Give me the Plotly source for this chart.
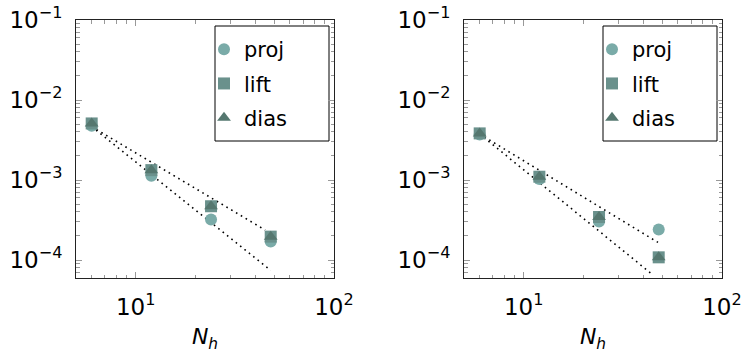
import plotly.graph_objects as go

# ---- data ----
N = [6, 12, 24, 48]

left_proj = [4.78e-3, 1.13e-3, 3.2e-4, 1.7e-4]
left_lift = [5.1e-3, 1.33e-3, 4.7e-4, 1.96e-4]
left_dias = [5.1e-3, 1.33e-3, 4.7e-4, 1.96e-4]

right_proj = [3.7e-3, 1.03e-3, 3.04e-4, 2.4e-4]
right_lift = [3.83e-3, 1.1e-3, 3.45e-4, 1.08e-4]
right_dias = [3.83e-3, 1.1e-3, 3.45e-4, 1.08e-4]

# reference (order) lines: endpoints
left_ref_hi_x = [6, 45]
left_ref_hi_y = [4.65e-3, 2.37e-4]
left_ref_lo_x = [6, 48]
left_ref_lo_y = [4.65e-3, 7.4e-5]
right_ref_hi_x = [6, 47.6]
right_ref_hi_y = [3.76e-3, 1.66e-4]
right_ref_lo_x = [6, 44.9]
right_ref_lo_y = [3.76e-3, 6.5e-5]

series_names = ["proj", "lift", "dias"]
x_title = "<i>N<sub>h</sub></i>"

x_tick_vals = [10, 100]
x_tick_text = ["10<sup>1</sup>", "10<sup>2</sup>"]
y_tick_vals = [1e-4, 1e-3, 1e-2, 1e-1]
y_tick_text = ["10<sup>\u22124</sup>", "10<sup>\u22123</sup>",
               "10<sup>\u22122</sup>", "10<sup>\u22121</sup>"]

# ---- style ----
FONT = "DejaVu Sans"
colors = {"proj": "#7aaba8", "lift": "#6a918c", "dias": "#55776f"}
symbols = {"proj": "circle", "lift": "square", "dias": "triangle-up"}
sizes = {"proj": 12, "lift": 12, "dias": 12}

W, H = 743, 353
fig = go.Figure()

panels = [
    ("x", "y", "legend", [left_proj, left_lift, left_dias],
     (left_ref_hi_x, left_ref_hi_y), (left_ref_lo_x, left_ref_lo_y)),
    ("x2", "y2", "legend2", [right_proj, right_lift, right_dias],
     (right_ref_hi_x, right_ref_hi_y), (right_ref_lo_x, right_ref_lo_y)),
]

for xa, ya, lg, vals, hi, lo in panels:
    for rx, ry in (hi, lo):
        fig.add_trace(go.Scatter(
            x=rx, y=ry, mode="lines", xaxis=xa, yaxis=ya, showlegend=False,
            line=dict(color="black", width=1.6, dash="1.6px,4px"),
            hoverinfo="skip"))
    for name, v in zip(series_names, vals):
        fig.add_trace(go.Scatter(
            x=N, y=v, mode="markers", name=name, xaxis=xa, yaxis=ya,
            legend=lg, legendgroup=lg + name,
            marker=dict(symbol=symbols[name], size=sizes[name],
                        color=colors[name], line=dict(width=0))))

def px_x(p):
    return p / W

def px_y(p):
    return 1 - p / H

minor_x = [k * 10 ** e for e in range(0, 2) for k in range(2, 10)]
minor_y = [k * 10 ** e for e in range(-5, -1) for k in range(2, 10)]

axis_common = dict(
    type="log", showline=True, linecolor="#222", linewidth=1, mirror="allticks",
    ticks="inside", ticklen=6, tickcolor="#999", tickwidth=1, automargin=False,
    showgrid=False, zeroline=False, tickmode="array",
    tickfont=dict(family=FONT, size=23, color="black"),
)

xd1 = [px_x(76), px_x(334)]
xd2 = [px_x(464), px_x(722)]
yd = [px_y(278), px_y(20)]

def xaxis(domain, anchor):
    return dict(axis_common, domain=domain, range=[0.699, 2.0005], anchor=anchor,
                tickvals=x_tick_vals, ticktext=x_tick_text, ticklabelstandoff=8,
                minor=dict(ticks="inside", ticklen=3.5, tickcolor="#999", tickwidth=1,
                           showgrid=False, tickmode="array", tickvals=minor_x),
                title=dict(text=x_title, font=dict(family=FONT, size=22), standoff=15))

def yaxis(anchor):
    return dict(axis_common, domain=yd, range=[-4.225, -0.999], anchor=anchor,
                tickvals=y_tick_vals, ticktext=y_tick_text, ticklabelstandoff=8,
                minor=dict(ticks="inside", ticklen=3.5, tickcolor="#999", tickwidth=1,
                           showgrid=False, tickmode="array", tickvals=minor_y))

legend_common = dict(xanchor="left", yanchor="top", bgcolor="rgba(0,0,0,0)",
                     borderwidth=0, tracegroupgap=4, itemwidth=30,
                     font=dict(family=FONT, size=21, color="black"))

fig.update_layout(
    width=W, height=H, margin=dict(l=0, r=0, t=0, b=0, autoexpand=False),
    paper_bgcolor="white", plot_bgcolor="white",
    font=dict(family=FONT, color="black"),
    xaxis=xaxis(xd1, "y"), yaxis=yaxis("x"),
    xaxis2=xaxis(xd2, "y2"), yaxis2=yaxis("x2"),
    legend=dict(legend_common, x=px_x(204), y=px_y(29)),
    legend2=dict(legend_common, x=px_x(592), y=px_y(29)),
    shapes=[
        dict(type="rect", xref="paper", yref="paper",
             x0=px_x(215), x1=px_x(329), y0=px_y(141), y1=px_y(26),
             line=dict(color="black", width=1), fillcolor="white", layer="below"),
        dict(type="rect", xref="paper", yref="paper",
             x0=px_x(603), x1=px_x(717), y0=px_y(141), y1=px_y(26),
             line=dict(color="black", width=1), fillcolor="white", layer="below"),
    ],
)

fig.write_html("out.html", config={"displayModeBar": False},
               post_script="document.body.style.margin='0';")
